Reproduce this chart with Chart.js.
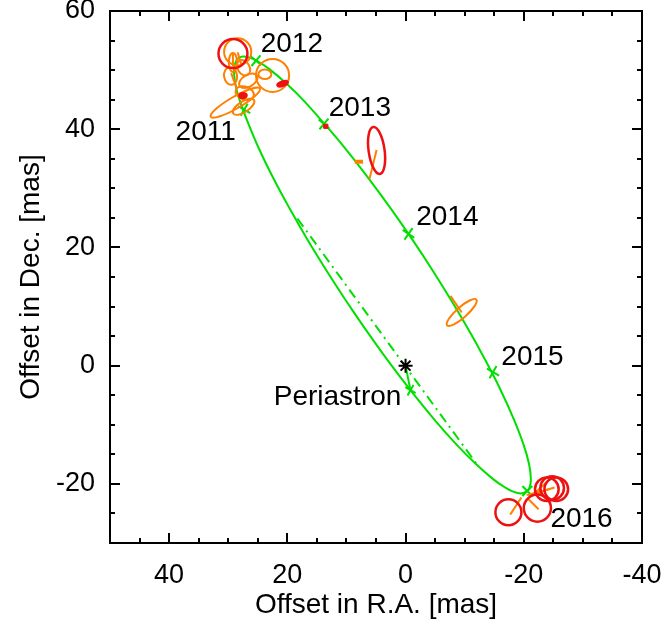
<!DOCTYPE html>
<html><head><meta charset="utf-8">
<script src="https://cdn.jsdelivr.net/npm/chart.js@4.4.1/dist/chart.umd.min.js"></script>
<style>html,body{margin:0;padding:0;background:#fff}#wrap{width:667px;height:624px}</style>
</head><body><div id="wrap"><canvas id="c" width="667" height="624"></canvas></div>
<script>
// ---- axis ticks ----
const xTickLabels = [40, 20, 0, -20, -40];
const yTickLabels = [60, 40, 20, 0, -20];
// ---- model orbit (mas) ----
const orbitX = [10.27, 13.54, 16.66, 19.58, 22.32, 24.80, 26.59, 28.15, 28.80, 29.02, 28.64, 28.14, 27.37, 26.41, 25.22, 23.15, 20.12, 17.54, 13.75, 10.15, 6.19, 2.46, -1.07, -4.42, -7.59, -10.59, -13.41, -16.02, -18.32, -19.95, -20.90, -21.20, -20.98, -20.54, -19.54, -18.10, -16.81, -14.86, -11.95, -8.59, -4.83, -0.69, 3.17, 6.80, 10.27];
const orbitY = [11.27, 16.36, 21.44, 26.53, 31.61, 36.69, 40.93, 45.17, 47.71, 50.25, 51.59, 52.12, 52.29, 52.12, 51.59, 50.25, 47.71, 45.17, 40.93, 36.69, 31.61, 26.53, 21.44, 16.36, 11.27, 6.19, 1.10, -3.98, -9.07, -13.31, -16.69, -19.24, -20.59, -21.27, -21.61, -21.27, -20.59, -19.24, -16.69, -13.31, -9.07, -3.98, 1.10, 6.19, 11.27];
// ---- line of nodes (dash-dot) ----
const nodesX = [18.3, -12.3];
const nodesY = [24.9, -17.0];
// ---- star and periastron ----
const starX = [0], starY = [0];
const periX = [-0.83], periY = [-4.15];
// ---- yearly positions on the orbit ----
const yearNames = ['2011', '2012', '2013', '2014', '2015', '2016'];
const yearX = [27.3, 25.3, 13.8, -0.5, -14.8, -20.6];
const yearY = [43.3, 51.6, 40.9, 22.3, -1.1, -21.2];
const yearLabelX = [38.9, 24.5, 13.0, -1.8, -16.2, -24.5];
const yearLabelY = [39.5, 54.4, 43.6, 25.1, 1.5, -26.0];
const periLabel = 'Periastron';
const periLabelX = [22.3], periLabelY = [-5.4];
// ---- orange error ellipses: centre, semi-axes (mas), angle (deg) ----
const orX = [-9.5, 22.5, 28.4, 29.6, 27.4, 26.6, 23.8, 29.2, 28.8, 27.4, 27.2];
const orY = [9.0, 49.1, 53.1, 49.0, 50.4, 48.2, 49.3, 51.3, 44.5, 43.8, 46.1];
const orA = [3.3, 2.8, 2.3, 1.5, 1.4, 1.7, 1.1, 1.6, 4.8, 2.1, 1.6];
const orB = [0.9, 2.8, 2.3, 1.1, 1.0, 1.0, 0.8, 0.7, 1.0, 0.9, 1.1];
const orAng = [-41.5, 0, 0, 80, 60, -30, 0, 90, -30, -33, 20];
// ---- red error ellipses / circles ----
const redX = [29.2, 4.9, -17.4, -22.3, -23.9, -24.8, -25.5, 20.8, 27.5];
const redY = [52.8, 36.4, -24.8, -24.1, -20.9, -20.7, -20.9, 47.7, 45.7];
const redA = [2.45, 4.0, 2.2, 2.3, 2.0, 2.0, 2.0, 0.9, 0.6];
const redB = [2.45, 1.35, 2.2, 2.3, 2.0, 2.0, 2.0, 0.35, 0.4];
const redAng = [0, 82, 0, 0, 0, 0, 0, -20, 0];
const redFill = [false, false, false, false, false, false, false, true, true];
// small red point near 2013
const redDotX = [13.5], redDotY = [40.5];
// ---- orange residual segments (measurement -> model) ----
const resX0 = [4.9, 8.6, -9.5, -17.7, -22.5, -24.2, -25.2, -24.0, 29.2, 29.5, 28.4, -23.0];
const resY0 = [36.5, 34.5, 9.0, -25.2, -24.3, -20.9, -20.6, -19.6, 52.8, 49.5, 53.0, -21.2];
const resX1 = [6.1, 7.2, -7.6, -19.6, -20.8, -20.8, -21.3, -21.8, 29.2, 28.6, 27.8, -20.5];
const resY1 = [31.6, 34.5, 11.8, -22.3, -22.6, -22.1, -21.8, -21.6, 50.6, 47.0, 51.0, -21.9];

const GREEN = '#00e000', ORANGE = '#ff8000', RED = '#ee1111';
const FONT = '"Liberation Sans", Arial, Helvetica, sans-serif';

const zip = (xs, ys) => xs.map((x, i) => ({x, y: ys[i]}));

const datasets = [];
datasets.push({label: 'orbit', data: zip(orbitX, orbitY), showLine: true, borderColor: GREEN, borderWidth: 2, pointRadius: 0, tension: 0.4, order: 5});
datasets.push({label: 'nodes', data: zip(nodesX, nodesY), showLine: true, borderColor: GREEN, borderWidth: 2, borderDash: [10, 5, 2, 5], pointRadius: 0, order: 5});
datasets.push({label: 'peri-line', data: [{x: starX[0], y: starY[0]}, {x: periX[0], y: periY[0]}], showLine: true, borderColor: GREEN, borderWidth: 2, pointRadius: 0, order: 5});
const yearRot = [30, 40, 130, 125, 120, 45];
datasets.push({label: 'years', data: zip(yearX, yearY), showLine: false, pointStyle: 'cross', rotation: yearRot, pointRadius: 7, borderColor: GREEN, borderWidth: 2, order: 4});
datasets.push({label: 'peri', data: zip(periX, periY), showLine: false, pointStyle: 'cross', rotation: 30, pointRadius: 6, borderColor: GREEN, borderWidth: 2, order: 4});
datasets.push({label: 'star', data: zip(starX, starY), showLine: false, pointStyle: 'star', pointRadius: 7, borderColor: '#000', borderWidth: 2, order: 3});
resX0.forEach((x, i) => datasets.push({label: 'res' + i, data: [{x, y: resY0[i]}, {x: resX1[i], y: resY1[i]}], showLine: true, borderColor: ORANGE, borderWidth: i === 1 ? 4 : 2, pointRadius: 0, order: 2}));
datasets.push({label: 'reddot', data: zip(redDotX, redDotY), showLine: false, pointStyle: 'rect', pointRadius: 3, backgroundColor: RED, borderColor: RED, order: 1});

const ellipsePlugin = {
  id: 'ellipses',
  afterDatasetsDraw(chart) {
    const {ctx, chartArea: ca} = chart;
    const xs = chart.scales.x, ys = chart.scales.y;
    const ppu = Math.abs(ys.getPixelForValue(1) - ys.getPixelForValue(0));
    ctx.save();
    ctx.beginPath(); ctx.rect(ca.left, ca.top, ca.right - ca.left, ca.bottom - ca.top); ctx.clip();
    const draw = (X, Y, A, B, ANG, color, lw, fill) => {
      X.forEach((x, i) => {
        const cx = xs.getPixelForValue(x), cy = ys.getPixelForValue(Y[i]);
        const t = ANG[i] * Math.PI / 180;
        const ax = xs.getPixelForValue(x + A[i] * Math.cos(t)) - cx;
        const ay = ys.getPixelForValue(Y[i] + A[i] * Math.sin(t)) - cy;
        ctx.beginPath();
        ctx.ellipse(cx, cy, Math.hypot(ax, ay), B[i] * ppu, Math.atan2(ay, ax), 0, 2 * Math.PI);
        ctx.lineWidth = lw; ctx.strokeStyle = color; ctx.stroke();
        if (fill && fill[i]) { ctx.fillStyle = color; ctx.fill(); }
      });
    };
    draw(orX, orY, orA, orB, orAng, ORANGE, 2, null);
    draw(redX, redY, redA, redB, redAng, RED, 2.5, redFill);
    ctx.restore();
    ctx.save();
    ctx.font = '28px ' + FONT; ctx.fillStyle = '#000'; ctx.textAlign = 'left'; ctx.textBaseline = 'middle';
    yearNames.forEach((t, i) => ctx.fillText(t, xs.getPixelForValue(yearLabelX[i]), ys.getPixelForValue(yearLabelY[i])));
    ctx.fillText(periLabel, xs.getPixelForValue(periLabelX[0]), ys.getPixelForValue(periLabelY[0]));
    ctx.restore();
  },
  afterDraw(chart) {
    const {ctx, chartArea: ca} = chart;
    const xs = chart.scales.x, ys = chart.scales.y;
    ctx.save();
    ctx.strokeStyle = '#000'; ctx.lineWidth = 2;
    ctx.strokeRect(ca.left, ca.top, ca.right - ca.left, ca.bottom - ca.top);
    ctx.beginPath();
    for (let v = -40; v <= 50; v += 5) {
      const len = v % 20 === 0 ? 10 : 5;
      const px = Math.round(xs.getPixelForValue(v));
      ctx.moveTo(px, ca.bottom); ctx.lineTo(px, ca.bottom - len);
      ctx.moveTo(px, ca.top); ctx.lineTo(px, ca.top + len);
    }
    for (let v = -30; v <= 60; v += 5) {
      const len = v % 20 === 0 ? 10 : 5;
      const py = Math.round(ys.getPixelForValue(v));
      ctx.moveTo(ca.left, py); ctx.lineTo(ca.left + len, py);
      ctx.moveTo(ca.right, py); ctx.lineTo(ca.right - len, py);
    }
    ctx.stroke();
    ctx.restore();
  }
};

const zeroPad = s => { s.paddingLeft = 0; s.paddingRight = 0; s.paddingTop = 0; s.paddingBottom = 0; };

new Chart(document.getElementById('c'), {
  type: 'scatter',
  data: {datasets},
  options: {
    responsive: false, animation: false, devicePixelRatio: 1,
    layout: {padding: {top: 11, right: 25, left: 0, bottom: 0}},
    plugins: {legend: {display: false}, tooltip: {enabled: false}},
    scales: {
      x: {
        type: 'linear', min: -40, max: 50, reverse: true,
        afterBuildTicks: s => { s.ticks = xTickLabels.map(v => ({value: v})); },
        afterFit: s => { s.height = 81; zeroPad(s); },
        grid: {display: false, drawTicks: false}, border: {display: false},
        ticks: {color: '#000', font: {family: FONT, size: 27}, padding: 16, maxRotation: 0, autoSkip: false},
        title: {display: true, text: 'Offset in R.A. [mas]', color: '#000', font: {family: FONT, size: 28}, padding: {top: 0, bottom: 2}}
      },
      y: {
        type: 'linear', min: -30, max: 60,
        afterBuildTicks: s => { s.ticks = yTickLabels.map(v => ({value: v})); },
        afterFit: s => { s.width = 110; zeroPad(s); },
        grid: {display: false, drawTicks: false}, border: {display: false},
        ticks: {color: '#000', font: {family: FONT, size: 27}, padding: 15, autoSkip: false},
        title: {display: true, text: 'Offset in Dec. [mas]', color: '#000', font: {family: FONT, size: 28}, padding: {top: 14, bottom: 0}}
      }
    }
  },
  plugins: [ellipsePlugin]
});
</script></body></html>
